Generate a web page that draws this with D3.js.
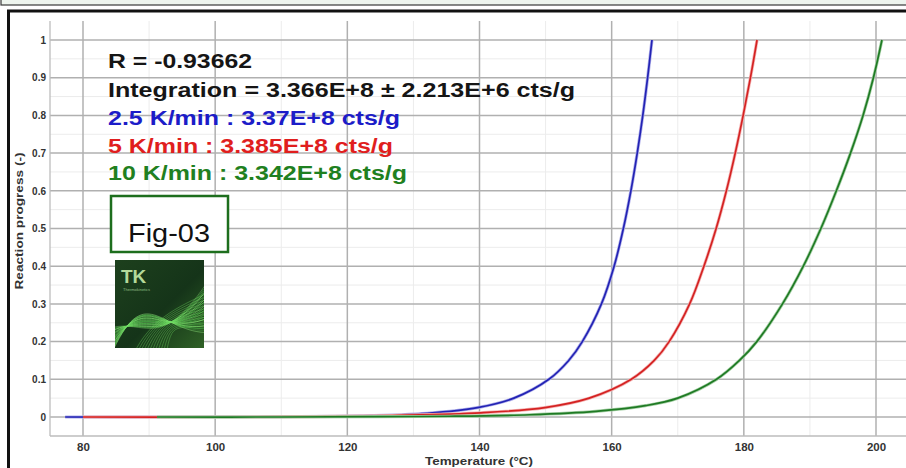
<!DOCTYPE html>
<html>
<head>
<meta charset="utf-8">
<script src="https://cdn.jsdelivr.net/npm/d3@7/dist/d3.min.js"></script>
<style>
  html, body { margin: 0; padding: 0; background: #fff; }
  svg { display: block; }
  text { font-family: "Liberation Sans", Arial, sans-serif; }
</style>
</head>
<body>
<svg id="chart" width="906" height="468"></svg>
<script>
// ---- data ----
const xTicks = [80, 100, 120, 140, 160, 180, 200];
const xMinor = [90, 110, 130, 150, 170, 190];
const yTicks = [0, 0.1, 0.2, 0.3, 0.4, 0.5, 0.6, 0.7, 0.8, 0.9, 1];
const yTickLabels = ["0", "0.1", "0.2", "0.3", "0.4", "0.5", "0.6", "0.7", "0.8", "0.9", "1"];
const yMinor = [0.05, 0.15, 0.25, 0.35, 0.45, 0.55, 0.65, 0.75, 0.85, 0.95];

const blueT = [77.3, 95, 109, 122.1, 132.1, 139.7, 145.2, 150.5, 153.5, 155.56, 158.45, 160.37, 161.77, 162.91, 163.87, 164.71, 165.44, 166.1];
const blueV = [0, 0, 0.001, 0.003, 0.01, 0.025, 0.05, 0.1, 0.15, 0.2, 0.3, 0.4, 0.5, 0.6, 0.7, 0.8, 0.9, 1.0];

const redT = [80, 100, 115, 126.8, 140.2, 149.9, 156.6, 162.97, 166.45, 168.7, 171.8, 173.96, 175.81, 177.36, 178.7, 179.9, 181.0, 182.0];
const redV = [0, 0, 0.001, 0.004, 0.011, 0.025, 0.05, 0.1, 0.15, 0.2, 0.3, 0.4, 0.5, 0.6, 0.7, 0.8, 0.9, 1.0];

const greenT = [91.2, 110, 125, 135.5, 147.6, 157.6, 165.1, 170.0, 175.87, 179.34, 181.97, 185.85, 189.0, 191.66, 194.0, 196.14, 198.04, 199.61, 200.9];
const greenV = [0, 0, 0.001, 0.002, 0.006, 0.015, 0.03, 0.05, 0.1, 0.15, 0.2, 0.3, 0.4, 0.5, 0.6, 0.7, 0.8, 0.9, 1.0];

const seriesNames = ["2.5 K/min", "5 K/min", "10 K/min"];
const seriesColors = ["#2323b4", "#d42222", "#1f7a24"];
const haloColors = ["#b0b0ea", "#f4b3b3", "#a8d2a8"];

const notes = ["R = -0.93662", "Integration = 3.366E+8 \u00b1 2.213E+6 cts/g", "2.5 K/min : 3.37E+8 cts/g", "5 K/min : 3.385E+8 cts/g", "10 K/min : 3.342E+8 cts/g"];
const noteColors = ["#151515", "#151515", "#1c1cc8", "#e01e1e", "#1f8020"];

const xTitle = "Temperature (\u00b0C)";
const yTitle = "Reaction progress (-)";
const figLabel = "Fig-03";

// ---- layout ----
const svg = d3.select("#chart");
const plot = { left: 50, right: 906, top: 21, bottom: 436 };
const x = d3.scaleLinear().domain([80, 200]).range([83, 876]);
const y = d3.scaleLinear().domain([0, 1]).range([417, 40]);

// top strip & frame
svg.append("rect").attr("x", 1).attr("y", -3).attr("width", 920).attr("height", 8)
  .attr("fill", "#eef5ee").attr("stroke", "#3a3a3a").attr("stroke-width", 1.2);
svg.append("line").attr("x1", 7).attr("x2", 906).attr("y1", 11).attr("y2", 11)
  .attr("stroke", "#111").attr("stroke-width", 3);
svg.append("line").attr("x1", 8.5).attr("x2", 8.5).attr("y1", 10).attr("y2", 468)
  .attr("stroke", "#111").attr("stroke-width", 3);

// grid
const g = svg.append("g");
g.selectAll(".vmin").data(xMinor).join("line")
  .attr("x1", d => x(d)).attr("x2", d => x(d)).attr("y1", plot.top).attr("y2", plot.bottom)
  .attr("stroke", "#ececec").attr("stroke-width", 1);
g.selectAll(".hmin").data(yMinor).join("line")
  .attr("x1", plot.left).attr("x2", plot.right).attr("y1", d => y(d)).attr("y2", d => y(d))
  .attr("stroke", "#ececec").attr("stroke-width", 1);
g.selectAll(".vmaj").data(xTicks).join("line")
  .attr("x1", d => x(d)).attr("x2", d => x(d)).attr("y1", plot.top).attr("y2", plot.bottom)
  .attr("stroke", "#b0b0b0").attr("stroke-width", 1.5);
g.selectAll(".hmaj").data(yTicks).join("line")
  .attr("x1", plot.left).attr("x2", plot.right).attr("y1", d => y(d)).attr("y2", d => y(d))
  .attr("stroke", "#b0b0b0").attr("stroke-width", 1.5);
g.append("line").attr("x1", plot.left).attr("x2", plot.left).attr("y1", plot.top).attr("y2", plot.bottom)
  .attr("stroke", "#bdbdbd").attr("stroke-width", 1.3);
g.append("line").attr("x1", plot.left).attr("x2", plot.right).attr("y1", plot.bottom).attr("y2", plot.bottom)
  .attr("stroke", "#bdbdbd").attr("stroke-width", 1.3);

// axes labels
const xAxis = d3.axisBottom(x).tickValues(xTicks).tickSize(0).tickPadding(0).tickFormat(d3.format("d"));
const xa = svg.append("g").attr("transform", `translate(0,${plot.bottom + 15})`).call(xAxis);
xa.select(".domain").remove();
xa.selectAll("text").attr("font-size", 11.5).attr("font-weight", "bold").attr("fill", "#333")
  .attr("font-family", '"Liberation Sans", Arial, sans-serif').attr("dy", "0");

const yAxis = d3.axisLeft(y).tickValues(yTicks).tickSize(0).tickPadding(0)
  .tickFormat((d, i) => yTickLabels[i]);
const ya = svg.append("g").attr("transform", `translate(46,0)`).call(yAxis);
ya.select(".domain").remove();
ya.selectAll("text").attr("font-size", 10).attr("font-weight", "bold").attr("fill", "#333")
  .attr("font-family", '"Liberation Sans", Arial, sans-serif');

svg.append("text").attr("x", 479).attr("y", 465).attr("text-anchor", "middle")
  .attr("font-size", 11).attr("font-weight", "bold").attr("fill", "#333")
  .attr("textLength", 108).attr("lengthAdjust", "spacingAndGlyphs").text(xTitle);
svg.append("text").attr("transform", "translate(23,221) rotate(-90)").attr("text-anchor", "middle")
  .attr("font-size", 10.5).attr("font-weight", "bold").attr("fill", "#333")
  .attr("textLength", 137).attr("lengthAdjust", "spacingAndGlyphs").text(yTitle);

// curves
const line = d3.line().x(d => x(d[0])).y(d => y(d[1])).curve(d3.curveCatmullRom.alpha(0.5));
const series = [
  blueT.map((t, i) => [t, blueV[i]]),
  redT.map((t, i) => [t, redV[i]]),
  greenT.map((t, i) => [t, greenV[i]])
];
const cg = svg.append("g");
series.forEach((s, i) => {
  cg.append("path").datum(s).attr("d", line).attr("fill", "none")
    .attr("stroke", haloColors[i]).attr("stroke-width", 3.2).attr("stroke-linejoin", "round");
  cg.append("path").datum(s).attr("d", line).attr("fill", "none")
    .attr("stroke", seriesColors[i]).attr("stroke-width", 1.7).attr("stroke-linejoin", "round")
    .attr("data-name", seriesNames[i]);
});

// annotations
const noteY = [68, 97, 125, 153, 180];
const noteW = [144, 467, 292, 285, 299];
svg.append("g").selectAll("text").data(notes).join("text")
  .attr("x", 108).attr("y", (d, i) => noteY[i])
  .attr("font-size", 20).attr("font-weight", "bold")
  .attr("fill", (d, i) => noteColors[i])
  .attr("textLength", (d, i) => noteW[i]).attr("lengthAdjust", "spacingAndGlyphs")
  .text(d => d);

// Fig label box
svg.append("rect").attr("x", 111).attr("y", 196).attr("width", 117).attr("height", 56)
  .attr("fill", "#fff").attr("stroke", "#1d6e1d").attr("stroke-width", 2.5);
svg.append("text").attr("x", 128).attr("y", 242).attr("font-size", 26).attr("fill", "#111")
  .attr("textLength", 82).attr("lengthAdjust", "spacingAndGlyphs").text(figLabel);

// logo
const defs = svg.append("defs");
const grad = defs.append("linearGradient").attr("id", "lg").attr("x1", 0).attr("y1", 0).attr("x2", 1).attr("y2", 1);
grad.append("stop").attr("offset", "0%").attr("stop-color", "#1d401d");
grad.append("stop").attr("offset", "55%").attr("stop-color", "#153419");
grad.append("stop").attr("offset", "100%").attr("stop-color", "#2f6126");
const logo = svg.append("g").attr("transform", "translate(115,260)");
logo.append("rect").attr("width", 89).attr("height", 88).attr("fill", "url(#lg)");
defs.append("clipPath").attr("id", "lc").append("rect").attr("width", 89).attr("height", 88);
const wg = logo.append("g").attr("clip-path", "url(#lc)");
d3.range(22).forEach(i => {
  const p = d3.path();
  p.moveTo(-5, 68 + i * 1.4);
  p.bezierCurveTo(30, 58 - i * 2, 45, 95 - i, 95, 18 + i * 2.6);
  wg.append("path").attr("d", p.toString()).attr("fill", "none")
    .attr("stroke", i % 3 === 0 ? "#9af585" : "#55c84f").attr("stroke-opacity", 0.35 + (i % 4) * 0.12)
    .attr("stroke-width", 0.9);
});
d3.range(12).forEach(i => {
  const p = d3.path();
  p.moveTo(18 + i * 3, 95);
  p.bezierCurveTo(35 + i * 2, 60, 60, 48 + i * 2, 95, 32 + i * 3);
  wg.append("path").attr("d", p.toString()).attr("fill", "none")
    .attr("stroke", "#74e463").attr("stroke-opacity", 0.45).attr("stroke-width", 0.8);
});
logo.append("text").attr("x", 6).attr("y", 23).attr("font-size", 19).attr("font-weight", "bold")
  .attr("fill", "#b4d99a").text("TK");
logo.append("text").attr("x", 8).attr("y", 31).attr("font-size", 4).attr("fill", "#8fbf85").text("Thermokinetics");
</script>
</body>
</html>
